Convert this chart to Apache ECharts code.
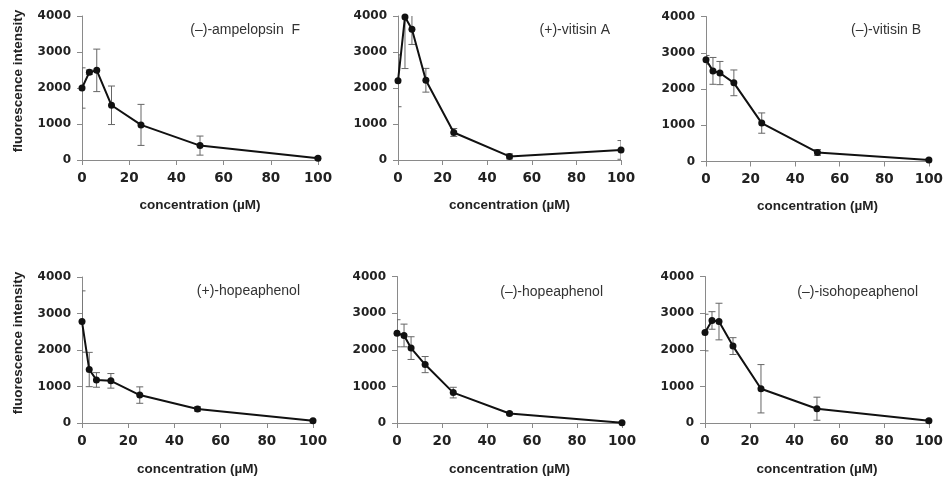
<!DOCTYPE html>
<html>
<head>
<meta charset="utf-8">
<script src="https://cdn.jsdelivr.net/npm/echarts@6/dist/echarts.min.js"></script>
<style>html,body{margin:0;padding:0;background:#fff}#c{width:946px;height:477px}</style>
</head>
<body>
<div id="c"></div>
<script>
// concentrations (µM)
const conc = [0, 3.125, 6.25, 12.5, 25, 50, 100];
const xTicks = [0, 20, 40, 60, 80, 100];
const yTicks = [0, 1000, 2000, 3000, 4000];
const names = ['(–)-ampelopsin  F', '(+)-vitisin A', '(–)-vitisin B', '(+)-hopeaphenol', '(–)-hopeaphenol', '(–)-isohopeaphenol'];

const ampelopsinF_mean = [2000, 2440, 2490, 1520, 975, 400, 50];
const ampelopsinF_err  = [560, 60, 590, 535, 570, 265, 40];
const vitisinA_mean = [2200, 3970, 3630, 2215, 765, 100, 280];
const vitisinA_err  = [720, 1430, 420, 330, 110, 70, 260];
const vitisinB_mean = [2805, 2500, 2440, 2170, 1060, 250, 40];
const vitisinB_err  = [120, 370, 320, 355, 280, 80, 30];
const hopeaphenolP_mean = [2780, 1465, 1180, 1155, 765, 385, 60];
const hopeaphenolP_err  = [840, 470, 200, 200, 225, 60, 30];
const hopeaphenolM_mean = [2450, 2390, 2045, 1595, 830, 260, 10];
const hopeaphenolM_err  = [370, 310, 310, 220, 145, 40, 20];
const isohopeaphenol_mean = [2470, 2800, 2770, 2100, 935, 390, 60];
const isohopeaphenol_err  = [500, 240, 500, 230, 660, 315, 40];

const means = [ampelopsinF_mean, vitisinA_mean, vitisinB_mean, hopeaphenolP_mean, hopeaphenolM_mean, isohopeaphenol_mean];
const errs = [ampelopsinF_err, vitisinA_err, vitisinB_err, hopeaphenolP_err, hopeaphenolM_err, isohopeaphenol_err];

// layout: [left, top, right-edge, bottom-edge]
const boxes = [
  [82, 16, 318, 160],
  [398, 16, 621, 160],
  [706, 16.5, 931, 161.5],
  [82, 277, 313, 424],
  [397, 276.5, 622, 423.5],
  [705, 276.5, 933, 423.5]
];
const titlePos = [[305, 18], [615, 18], [926, 18], [305, 279], [608, 280], [923, 280]];

const FONT = '"Liberation Sans", Arial, sans-serif';
const NUMFONT = '"DejaVu Sans", sans-serif';
const axisColor = '#8a8a8a';

function errRender(params, api) {
  const x = api.value(0), y = api.value(1), e = api.value(2);
  const t = api.coord([x, y + e]), b = api.coord([x, y - e]);
  const w = 3.5;
  const style = {stroke: '#666', lineWidth: 1};
  return {type: 'group', children: [
    {type: 'line', shape: {x1: t[0], y1: t[1], x2: b[0], y2: b[1]}, style: style},
    {type: 'line', shape: {x1: t[0] - w, y1: t[1], x2: t[0] + w, y2: t[1]}, style: style},
    {type: 'line', shape: {x1: b[0] - w, y1: b[1], x2: b[0] + w, y2: b[1]}, style: style}
  ]};
}

const grid = [], xAxis = [], yAxis = [], series = [], title = [], graphic = [];
boxes.forEach((bx, i) => {
  grid.push({left: bx[0], top: bx[1], width: bx[2] - bx[0], height: bx[3] - bx[1], containLabel: false});
  xAxis.push({
    type: 'value', gridIndex: i, min: xTicks[0], max: xTicks[xTicks.length - 1], interval: xTicks[1] - xTicks[0],
    splitLine: {show: false},
    axisLine: {show: true, lineStyle: {color: axisColor, width: 1}},
    axisTick: {show: true, length: 5, lineStyle: {color: axisColor}},
    axisLabel: {margin: 11, fontFamily: NUMFONT, fontWeight: 'bold', fontSize: 13.5, color: '#222', formatter: v => String(v)},
    name: 'concentration (µM)', nameLocation: 'middle', nameGap: i < 3 ? 38 : 39,
    nameTextStyle: {fontFamily: FONT, fontWeight: 'bold', fontSize: 13.5, color: '#222'}
  });
  yAxis.push({
    type: 'value', gridIndex: i, min: yTicks[0], max: yTicks[yTicks.length - 1], interval: yTicks[1] - yTicks[0],
    splitLine: {show: false},
    axisLine: {show: true, lineStyle: {color: axisColor, width: 1}},
    axisTick: {show: true, length: 5, lineStyle: {color: axisColor}},
    axisLabel: {margin: 11, fontFamily: NUMFONT, fontWeight: 'bold', fontSize: 12, color: '#222', formatter: v => String(v)}
  });
  const pts = conc.map((c, k) => [c, means[i][k], errs[i][k]]);
  series.push({
    type: 'custom', xAxisIndex: i, yAxisIndex: i, renderItem: errRender, clip: true, z: 1,
    data: pts, silent: true
  });
  series.push({
    type: 'line', xAxisIndex: i, yAxisIndex: i, z: 3,
    data: conc.map((c, k) => [c, means[i][k]]),
    symbol: 'circle', symbolSize: 7,
    itemStyle: {color: '#111'},
    lineStyle: {color: '#111', width: 2},
    animation: false
  });
  title.push({
    text: names[i], right: 946 - titlePos[i][0], top: titlePos[i][1],
    textStyle: {fontFamily: FONT, fontWeight: 'normal', fontSize: 14, color: '#333'}
  });
});

[[18, 81], [18, 343]].forEach(p => {
  graphic.push({
    type: 'text', x: p[0], y: p[1], rotation: Math.PI / 2,
    style: {text: 'fluorescence intensity', fontFamily: FONT, fontWeight: 'bold', fontSize: 13.5, fill: '#222', textAlign: 'center', textVerticalAlign: 'middle'}
  });
});

const chart = echarts.init(document.getElementById('c'), null, {renderer: 'canvas'});
chart.setOption({animation: false, title, grid, xAxis, yAxis, series, graphic});
</script>
</body>
</html>
